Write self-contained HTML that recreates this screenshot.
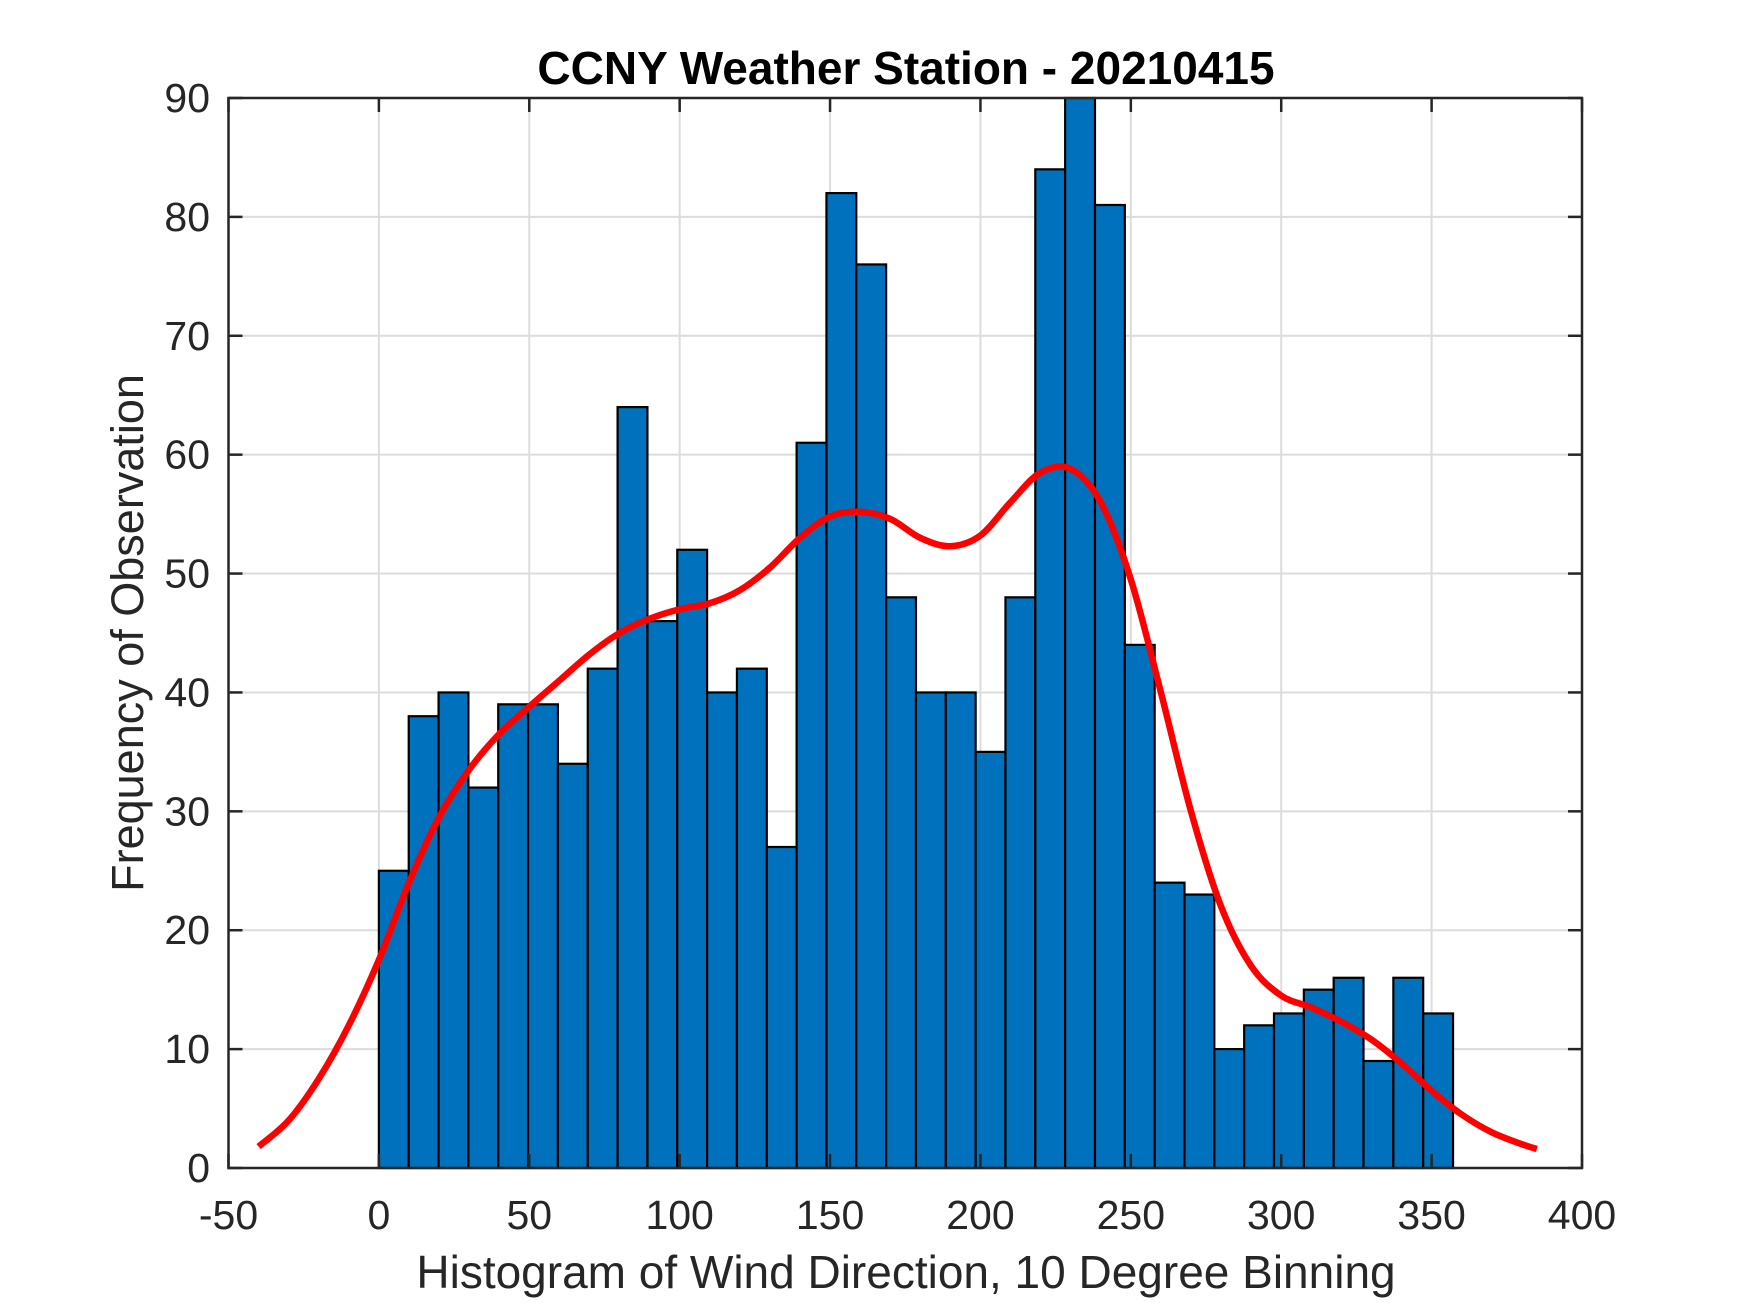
<!DOCTYPE html>
<html><head><meta charset="utf-8"><style>
html,body{margin:0;padding:0;background:#fff;}
svg{display:block;font-family:"Liberation Sans",sans-serif;}
</style></head><body>
<svg id="chart" width="1750" height="1313" viewBox="0 0 1750 1313" xmlns="http://www.w3.org/2000/svg">
<rect width="1750" height="1313" fill="#fff"/>
<g id="grid"></g><g id="bars"></g><g id="curve"></g><g id="axes"></g>
<text x="906" y="84" text-anchor="middle" font-size="46" font-weight="bold" fill="#000">CCNY Weather Station - 20210415</text>
<text x="906" y="1288" text-anchor="middle" font-size="46" fill="#262626">Histogram of Wind Direction, 10 Degree Binning</text>
<text transform="translate(143,633) rotate(-90)" text-anchor="middle" font-size="45" fill="#262626">Frequency of Observation</text>
</svg>
<script>
const binWidth=9.92;
const binStarts=[0,9.92,19.84,29.76,39.68,49.6,59.52,69.44,79.36,89.28,99.2,109.12,119.04,128.96,138.88,148.8,158.72,168.64,178.56,188.48,198.4,208.32,218.24,228.16,238.08,248,257.92,267.84,277.76,287.68,297.6,307.52,317.44,327.36,337.28,347.2];
const counts=[25,38,40,32,39,39,34,42,64,46,52,40,42,27,61,82,76,48,40,40,35,48,84,90,81,44,24,23,10,12,13,15,16,9,16,13];
const curveX=[-40,-30,-20,-10,0,10,20,30,40,50,60,70,80,90,100,110,120,130,140,150,160,170,180,190,200,210,220,230,240,250,260,270,280,290,300,310,320,330,340,350,360,370,380,385];
const curveY=[1.8,4,7.5,12,17.5,24,29.5,33.5,36.5,38.8,41,43.2,45,46.2,47,47.5,48.6,50.5,53,54.8,55.2,54.6,53,52.3,53.2,56,58.5,58.8,56,49.5,40,30,22,17,14.5,13.5,12.3,10.8,8.8,6.5,4.5,3,2,1.6];
const xTicks=[-50,0,50,100,150,200,250,300,350,400];
const yTicks=[0,10,20,30,40,50,60,70,80,90];
const L=228.5,R=1582,T=98,B=1168;
const sx=v=>L+(v+50)/450*(R-L);
const sy=v=>B-v/90*(B-T);
const NS='http://www.w3.org/2000/svg';
function mk(tag,attrs,parent){const e=document.createElementNS(NS,tag);for(const k in attrs)e.setAttribute(k,attrs[k]);parent.appendChild(e);return e;}
const grid=document.getElementById('grid'),bars=document.getElementById('bars'),curve=document.getElementById('curve'),axes=document.getElementById('axes');
xTicks.forEach(t=>{const l=mk('line',{x1:sx(t),x2:sx(t),y1:T,y2:B,stroke:'#dcdcdc','stroke-width':2},grid);

});
yTicks.forEach(t=>{const l=mk('line',{x1:L,x2:R,y1:sy(t),y2:sy(t),stroke:'#dcdcdc','stroke-width':2},grid);

});
binStarts.forEach((b,i)=>{const r=mk('rect',{x:sx(b),y:sy(counts[i]),width:sx(b+binWidth)-sx(b),height:B-sy(counts[i]),fill:'#0072bd',stroke:'#000','stroke-width':2.2},bars);

});
const pts=curveX.map((x,i)=>[sx(x),sy(curveY[i])]);
let d='M'+pts[0][0]+','+pts[0][1];
for(let i=0;i<pts.length-1;i++){const p0=pts[Math.max(i-1,0)],p1=pts[i],p2=pts[i+1],p3=pts[Math.min(i+2,pts.length-1)];
d+=' C'+(p1[0]+(p2[0]-p0[0])/6)+','+(p1[1]+(p2[1]-p0[1])/6)+' '+(p2[0]-(p3[0]-p1[0])/6)+','+(p2[1]-(p3[1]-p1[1])/6)+' '+p2[0]+','+p2[1];}
const c=mk('path',{d:d,fill:'none',stroke:'#ff0000','stroke-width':6.5,'stroke-linecap':'butt','stroke-linejoin':'round'},curve);


const box=mk('rect',{x:L,y:T,width:R-L,height:B-T,fill:'none',stroke:'#262626','stroke-width':2.5},axes);


xTicks.forEach(t=>{mk('line',{x1:sx(t),x2:sx(t),y1:B,y2:B-14,stroke:'#262626','stroke-width':2.5},axes);
mk('line',{x1:sx(t),x2:sx(t),y1:T,y2:T+14,stroke:'#262626','stroke-width':2.5},axes);
const tx=mk('text',{x:sx(t),y:1229,'text-anchor':'middle','font-size':41,fill:'#262626'},axes);tx.textContent=t;

});
yTicks.forEach(t=>{mk('line',{x1:L,x2:L+14,y1:sy(t),y2:sy(t),stroke:'#262626','stroke-width':2.5},axes);
mk('line',{x1:R,x2:R-14,y1:sy(t),y2:sy(t),stroke:'#262626','stroke-width':2.5},axes);
const tx=mk('text',{x:210,y:sy(t)+14,'text-anchor':'end','font-size':41,fill:'#262626'},axes);tx.textContent=t;

});
</script>
</body></html>
